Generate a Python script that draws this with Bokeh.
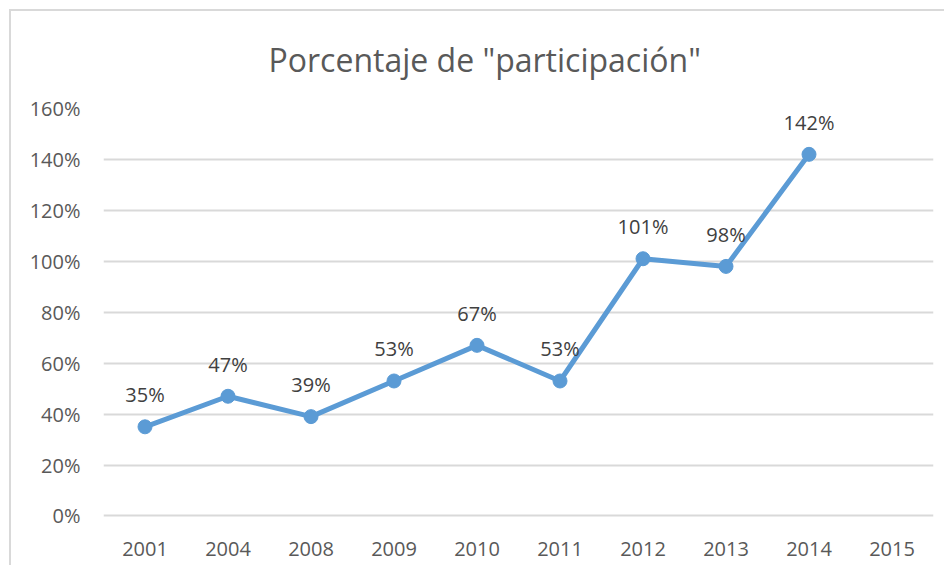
from bokeh.plotting import figure
from bokeh.models import FactorRange, Range1d, FixedTicker, PrintfTickFormatter, ColumnDataSource, Title
from bokeh.core.properties import value
from bokeh.embed import file_html
from bokeh.resources import INLINE

# ---- data ----
years = ["2001", "2004", "2008", "2009", "2010", "2011", "2012", "2013", "2014", "2015"]
pts_years = ["2001", "2004", "2008", "2009", "2010", "2011", "2012", "2013", "2014"]
pct = [35, 47, 39, 53, 67, 53, 101, 98, 142]
y_ticks = [0, 20, 40, 60, 80, 100, 120, 140, 160]
title_text = 'Porcentaje de "participación"'

FONT = "Open Sans"
BLUE = "#5B9BD5"

src = ColumnDataSource(dict(x=pts_years, y=pct, lbl=[f"{v}%" for v in pct]))

p = figure(
    width=935, height=556,
    x_range=FactorRange(*years, range_padding=0),
    y_range=Range1d(-1, 160),
    output_backend="svg", toolbar_location=None,
    min_border_left=92, min_border_right=13, min_border_top=97, min_border_bottom=49,
    margin=(9, 0, 0, 9),
    styles={"border-left": "2px solid #d9d9d9", "border-top": "2px solid #d9d9d9"},
)
p.outline_line_color = None
p.background_fill_color = "white"
p.border_fill_color = "white"

t = Title(text=title_text, align="left", vertical_align="top", text_font=FONT,
          text_font_size="32px", text_font_style="normal", text_color="#595959",
          standoff=51, offset=165)
p.add_layout(t, "above")

# axes
p.yaxis.ticker = FixedTicker(ticks=y_ticks)
p.yaxis.formatter = PrintfTickFormatter(format="%d%%")
for ax in (p.xaxis[0], p.yaxis[0]):
    ax.axis_line_color = None
    ax.major_tick_line_color = None
    ax.minor_tick_line_color = None
    ax.major_label_text_font = FONT
    ax.major_label_text_font_size = "20px"
    ax.major_label_text_color = "#595959"
p.yaxis.major_label_standoff = 17
p.xaxis.major_label_standoff = 17

p.xgrid.grid_line_color = None
p.ygrid.grid_line_color = "#d9d9d9"
p.ygrid.grid_line_width = 2

p.line("x", "y", source=src, line_color=BLUE, line_width=5, line_join="round")
p.scatter("x", "y", source=src, size=14, fill_color=BLUE, line_color=BLUE)
p.text("x", "y", text="lbl", source=src, text_font=value(FONT), text_font_size="20px",
       text_color="#404040", text_align="center", text_baseline="alphabetic", y_offset=-32)

open("out.html", "w").write(file_html(p, INLINE))
